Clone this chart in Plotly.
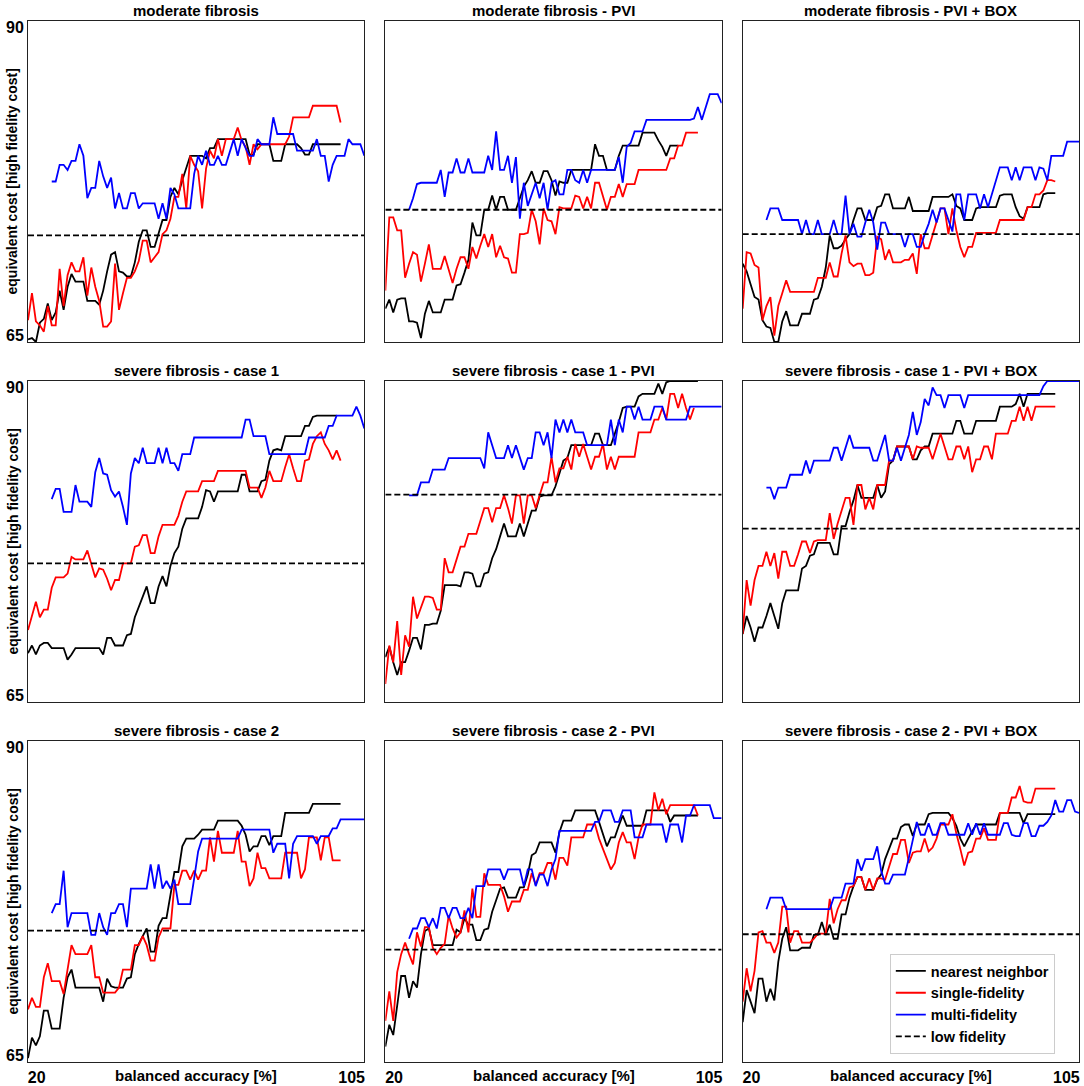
import plotly.graph_objects as go
from plotly.subplots import make_subplots

# x axis starts: nearest neighbor / single-fidelity start at 20, multi-fidelity at 26 (step 1)
X_START_NN = 20
X_START_SF = 20
X_START_MF = 26

TITLES = [
    "moderate fibrosis", "moderate fibrosis - PVI", "moderate fibrosis - PVI + BOX",
    "severe fibrosis - case 1", "severe fibrosis - case 1 - PVI", "severe fibrosis - case 1 - PVI + BOX",
    "severe fibrosis - case 2", "severe fibrosis - case 2 - PVI", "severe fibrosis - case 2 - PVI + BOX",
]

# low fidelity reference level per panel
LOW_FIDELITY = [73.3, 75.3, 73.4, 75.8, 81.15, 78.5, 75.24, 73.76, 74.95]

# ---- moderate fibrosis
MOD_NN = [65.2, 65.3, 65.0, 66.5, 66.8, 68.0, 66.7, 67.3, 69.0, 67.5,
          69.3, 70.3, 69.7, 69.7, 69.7, 68.2, 68.2, 68.2, 67.9, 69.0,
          70.5, 71.8, 72.0, 70.5, 70.4, 70.1, 70.1, 71.2, 72.8, 73.7,
          73.7, 72.4, 72.4, 73.5, 74.5, 74.5, 76.3, 77.0, 76.5, 77.6,
          78.5, 79.5, 79.5, 79.5, 79.5, 79.3, 80.1, 80.1, 80.8, 80.8,
          80.8, 80.8, 80.8, 80.8, 80.8, 80.8, 79.6, 79.6, 80.4, 80.4,
          80.4, 80.4, 79.1, 79.1, 79.1, 80.4, 80.4, 80.4, 80.4, 80.1,
          79.6, 79.6, 80.4, 80.4, 80.4, 80.4, 80.4, 80.4, 80.4, 80.4]
MOD_SF = [66.7, 68.8, 66.6, 66.3, 65.8, 67.8, 66.3, 66.3, 70.7, 67.8,
          70.2, 71.2, 70.5, 70.5, 71.6, 68.6, 70.8, 69.3, 68.2, 66.2,
          66.2, 66.6, 71.1, 67.5, 68.8, 70.0, 70.0, 70.5, 71.3, 72.9,
          72.9, 71.2, 71.6, 72.0, 73.4, 73.7, 74.6, 76.3, 76.3, 78.1,
          75.4, 79.5, 78.8, 78.3, 75.4, 78.5, 79.9, 79.3, 80.8, 79.5,
          80.8, 80.8, 80.8, 81.7, 80.7, 80.2, 78.8, 80.4, 80.0, 80.4,
          80.4, 80.4, 80.4, 80.4, 80.4, 80.4, 81.0, 82.5, 82.5, 82.5,
          82.5, 82.5, 83.4, 83.4, 83.4, 83.4, 83.4, 83.4, 83.4, 82.1]
MOD_MF = [77.5, 77.5, 78.8, 78.8, 78.4, 79.1, 79.1, 80.4, 79.5, 76.2,
          77.0, 77.0, 79.1, 77.9, 77.0, 77.8, 75.4, 76.6, 75.4, 75.4,
          76.6, 76.6, 75.4, 75.8, 75.8, 75.8, 75.8, 74.6, 75.8, 74.6,
          77.0, 76.5, 75.4, 75.4, 75.4, 75.4, 78.1, 79.5, 78.8, 79.9,
          78.8, 78.8, 79.5, 78.8, 78.8, 79.9, 80.8, 79.5, 80.8, 80.1,
          79.5, 79.5, 80.8, 80.4, 80.4, 80.4, 82.5, 81.2, 81.2, 81.2,
          81.2, 81.2, 79.9, 79.9, 79.9, 79.9, 79.9, 80.8, 79.5, 79.5,
          77.5, 78.8, 79.5, 79.5, 79.5, 80.8, 80.4, 80.4, 80.4, 79.5]

# ---- moderate fibrosis - PVI
MOD_PVI_NN = [67.6, 68.3, 67.3, 68.3, 68.4, 68.4, 66.6, 66.6, 66.5, 65.3,
              67.2, 68.2, 67.3, 67.3, 67.3, 68.3, 68.3, 68.3, 69.4, 69.5,
              70.4, 71.4, 74.3, 73.3, 73.3, 75.3, 75.3, 76.4, 75.3, 76.3,
              76.3, 75.3, 75.3, 75.3, 76.2, 77.1, 77.6, 78.3, 77.4, 77.4,
              78.3, 78.3, 77.6, 76.4, 77.5, 77.4, 77.4, 78.4, 78.4, 78.4,
              78.4, 78.4, 78.4, 80.4, 79.5, 79.5, 78.4, 78.4, 78.4, 79.5,
              80.3, 80.3, 80.3, 80.3, 80.3, 81.3, 81.3, 81.3, 81.3, 80.7,
              80.2, 79.5, 80.3, 80.3, 80.3]
MOD_PVI_SF = [69.0, 74.7, 74.7, 73.7, 73.7, 70.0, 71.1, 72.0, 71.8, 69.7,
              71.1, 72.6, 70.7, 70.7, 70.7, 71.7, 70.7, 69.6, 70.7, 71.6,
              71.6, 70.7, 72.4, 71.5, 72.5, 73.4, 72.4, 73.4, 71.6, 72.5,
              71.6, 71.5, 70.4, 70.4, 73.4, 73.4, 73.5, 75.3, 74.4, 72.6,
              75.4, 74.5, 74.4, 73.4, 75.5, 75.4, 75.4, 75.4, 76.4, 76.3,
              75.4, 76.3, 75.4, 77.4, 77.4, 76.4, 75.3, 76.3, 76.3, 77.3,
              76.3, 77.3, 77.3, 77.3, 78.4, 78.4, 78.4, 78.4, 78.4, 78.4,
              78.4, 78.4, 79.3, 79.3, 80.3, 80.3, 81.3, 81.3, 81.3, 81.3]
MOD_PVI_MF = [75.3, 76.2, 77.3, 77.4, 77.4, 77.4, 77.4, 77.4, 78.4, 76.3,
              78.2, 78.2, 79.3, 78.2, 78.2, 79.3, 78.2, 78.2, 78.2, 78.2,
              79.5, 78.4, 81.4, 78.4, 78.4, 79.5, 77.4, 79.4, 74.6, 77.4,
              75.6, 76.5, 77.4, 76.2, 77.4, 75.3, 77.4, 77.6, 76.5, 76.5,
              78.4, 78.4, 77.6, 77.4, 78.4, 77.4, 78.4, 78.4, 78.4, 78.4,
              78.4, 78.4, 78.4, 79.4, 77.4, 80.2, 80.5, 81.4, 81.4, 81.4,
              82.3, 82.3, 82.3, 82.3, 82.3, 82.3, 82.3, 82.3, 82.3, 82.3,
              82.3, 82.3, 82.4, 83.3, 82.3, 83.3, 84.3, 84.3, 84.3, 83.6]

# ---- moderate fibrosis - PVI + BOX
MOD_BOX_NN = [71.1, 70.5, 69.5, 68.5, 68.3, 66.7, 66.2, 66.1, 65.0, 65.0,
              66.6, 67.4, 66.3, 66.3, 66.3, 67.2, 67.2, 67.2, 68.3, 68.4,
              69.3, 70.8, 73.3, 72.3, 72.3, 72.5, 73.0, 73.4, 74.5, 75.4,
              75.4, 74.5, 74.5, 74.5, 75.5, 75.6, 76.5, 76.5, 75.4, 75.4,
              75.4, 75.4, 76.3, 75.2, 75.2, 75.2, 75.2, 75.2, 76.3, 76.3,
              76.3, 76.3, 76.3, 76.5, 75.6, 75.4, 74.5, 74.5, 74.5, 75.4,
              75.5, 75.5, 75.5, 75.5, 75.5, 76.4, 76.5, 76.5, 76.5, 75.5,
              74.8, 74.6, 75.5, 75.5, 75.5, 75.5, 76.5, 76.6, 76.6, 76.6]
MOD_BOX_SF = [67.6, 72.0, 71.9, 71.0, 70.8, 66.7, 67.8, 68.5, 65.5, 67.8,
              68.8, 69.8, 68.9, 68.9, 68.9, 68.9, 68.9, 68.9, 68.9, 70.0,
              70.0, 70.0, 71.2, 70.1, 70.1, 71.9, 73.3, 71.2, 70.9, 71.1,
              71.1, 70.2, 70.2, 70.4, 73.2, 73.0, 71.4, 72.2, 71.2, 71.2,
              71.2, 71.4, 71.4, 71.9, 70.3, 73.4, 72.3, 72.3, 73.4, 74.3,
              75.4, 75.4, 73.4, 75.4, 73.7, 72.4, 71.6, 72.4, 72.4, 73.5,
              73.5, 73.5, 73.5, 73.5, 73.5, 74.5, 74.5, 74.5, 74.5, 74.5,
              74.5, 74.5, 75.5, 75.5, 76.5, 76.5, 76.8, 77.6, 77.6, 77.5]
MOD_BOX_MF = [74.5, 75.4, 75.4, 75.4, 74.5, 74.5, 74.5, 74.5, 74.5, 73.4,
              74.5, 73.4, 73.4, 74.5, 73.4, 73.4, 73.4, 74.5, 73.4, 73.4,
              76.4, 73.4, 74.2, 73.2, 73.2, 74.3, 75.3, 74.3, 72.2, 74.3,
              74.3, 73.4, 73.4, 73.4, 73.4, 72.4, 73.4, 73.4, 72.4, 72.4,
              73.4, 74.2, 75.3, 74.3, 75.4, 75.4, 74.5, 73.6, 76.5, 76.5,
              74.5, 76.5, 76.5, 76.5, 75.4, 76.5, 75.5, 76.5, 77.6, 78.6,
              78.6, 78.6, 77.6, 78.6, 77.6, 78.6, 78.6, 78.6, 77.6, 78.6,
              78.5, 77.6, 79.5, 79.5, 79.5, 79.5, 80.6, 80.6, 80.6, 80.6]

# ---- severe fibrosis - case 1
SEV1_NN = [68.8, 69.4, 68.7, 69.4, 69.6, 69.6, 69.2, 69.2, 69.2, 69.2,
           68.3, 68.7, 69.2, 69.2, 69.2, 69.2, 69.2, 69.2, 69.2, 68.7,
           70.0, 70.0, 69.4, 69.4, 69.4, 70.2, 70.3, 71.6, 72.4, 73.2,
           74.0, 72.7, 72.7, 74.0, 74.8, 74.0, 75.6, 76.6, 77.1, 78.5,
           79.3, 79.3, 79.3, 79.3, 80.2, 81.5, 81.4, 80.6, 81.4, 81.4,
           81.4, 81.4, 81.4, 81.4, 82.7, 82.7, 81.4, 81.4, 81.4, 82.2,
           82.3, 83.8, 84.6, 84.7, 84.6, 85.7, 85.7, 85.7, 85.7, 85.7,
           86.5, 86.5, 87.2, 87.3, 87.3, 87.3, 87.3, 87.3, 87.3]
SEV1_SF = [70.6, 71.7, 72.8, 71.6, 72.2, 72.2, 73.9, 74.7, 74.7, 74.7,
           75.0, 76.3, 76.1, 76.1, 76.1, 76.8, 75.7, 74.7, 75.4, 75.3,
           74.6, 73.7, 74.5, 74.5, 75.8, 75.8, 75.8, 77.1, 77.2, 78.0,
           78.0, 76.6, 76.6, 77.9, 78.8, 78.8, 78.8, 78.8, 79.5, 80.6,
           81.4, 81.4, 81.4, 81.4, 82.2, 82.2, 82.2, 82.2, 83.0, 83.0,
           83.0, 83.0, 83.0, 83.0, 83.0, 83.0, 81.7, 81.7, 81.7, 80.9,
           81.7, 83.0, 82.2, 82.2, 82.2, 83.3, 84.3, 83.2, 82.2, 82.2,
           83.8, 83.9, 85.1, 85.7, 86.0, 85.1, 84.6, 83.9, 84.6, 83.8]
SEV1_MF = [80.8, 81.6, 81.6, 79.8, 79.8, 79.8, 81.9, 80.6, 80.6, 80.6,
           80.2, 82.9, 84.0, 82.8, 82.7, 81.5, 81.0, 81.4, 80.2, 78.8,
           82.8, 84.0, 83.6, 84.8, 83.6, 83.6, 83.6, 84.8, 83.6, 84.8,
           83.6, 83.6, 83.0, 84.3, 84.3, 84.3, 85.6, 85.6, 85.6, 85.6,
           85.6, 85.6, 85.6, 85.6, 85.6, 85.6, 85.6, 85.6, 85.6, 87.0,
           87.0, 85.7, 85.7, 85.7, 85.7, 84.3, 84.3, 84.3, 84.3, 84.3,
           84.3, 84.3, 84.3, 84.3, 84.3, 85.6, 85.6, 85.6, 85.6, 85.6,
           86.5, 86.5, 87.3, 87.3, 87.3, 87.3, 87.3, 88.0, 87.3, 86.3]

# ---- severe fibrosis - case 1 - PVI
SEV1_PVI_NN = [68.5, 69.3, 68.1, 67.1, 68.1, 68.1, 69.0, 70.0, 70.0, 69.1,
               71.0, 71.0, 71.1, 71.1, 72.1, 74.1, 74.1, 74.1, 74.1, 74.0,
               75.1, 75.1, 75.0, 74.0, 74.0, 75.0, 75.1, 76.2, 76.9, 77.9,
               78.9, 77.9, 77.9, 77.9, 78.9, 77.9, 78.9, 79.9, 79.9, 81.0,
               81.1, 81.1, 81.1, 81.8, 82.9, 83.8, 84.0, 85.0, 85.0, 85.0,
               85.0, 85.0, 85.0, 85.9, 85.9, 85.0, 85.0, 85.0, 85.9, 86.8,
               87.9, 88.0, 88.0, 88.0, 88.8, 89.0, 89.0, 89.0, 89.0, 89.8,
               89.0, 89.9, 90.0, 90.0, 90.0, 90.0, 90.0, 90.0, 90.0, 90.0]
SEV1_PVI_SF = [66.4, 69.4, 68.1, 71.3, 67.1, 70.2, 69.3, 73.2, 71.5, 72.4,
               73.2, 73.2, 73.1, 72.2, 72.2, 76.2, 75.1, 75.1, 76.2, 77.1,
               77.1, 78.1, 78.1, 78.1, 79.1, 80.1, 80.1, 79.0, 80.1, 80.1,
               81.1, 80.1, 78.9, 81.1, 81.1, 78.9, 81.1, 81.1, 80.1, 81.1,
               82.1, 82.1, 84.1, 82.1, 83.2, 83.2, 84.1, 83.1, 85.1, 84.1,
               85.1, 84.1, 83.1, 84.1, 84.1, 85.1, 83.1, 84.1, 83.1, 84.1,
               84.1, 84.1, 84.1, 84.1, 86.0, 86.0, 86.0, 86.0, 87.0, 87.0,
               87.9, 87.0, 89.0, 89.0, 87.9, 89.0, 87.9, 87.0, 87.9]
SEV1_PVI_MF = [81.1, 81.1, 81.1, 82.1, 82.1, 82.1, 83.1, 83.1, 83.1, 83.1,
               84.0, 84.0, 84.0, 84.0, 84.0, 84.0, 84.0, 84.0, 84.0, 83.2,
               86.0, 85.0, 84.0, 84.0, 84.0, 85.0, 84.0, 85.0, 84.0, 83.1,
               84.0, 84.0, 86.0, 86.0, 85.0, 86.0, 84.0, 87.0, 86.0, 87.0,
               86.0, 87.0, 86.0, 86.0, 86.0, 85.0, 85.0, 85.0, 85.0, 85.0,
               85.0, 87.0, 85.0, 87.0, 86.0, 88.0, 88.0, 87.0, 88.0, 87.0,
               87.0, 87.0, 88.0, 88.0, 88.0, 87.0, 87.0, 87.0, 87.0, 87.0,
               87.0, 88.0, 88.0, 88.0, 88.0, 88.0, 88.0, 88.0, 88.0, 88.0]

# ---- severe fibrosis - case 1 - PVI + BOX
SEV1_BOX_NN = [70.3, 71.7, 70.8, 69.7, 70.8, 70.8, 71.7, 72.7, 71.7, 70.7,
               72.7, 73.7, 73.7, 73.7, 73.7, 75.4, 75.6, 76.4, 76.5, 77.4,
               77.4, 77.4, 77.4, 76.5, 76.5, 78.7, 78.7, 79.8, 80.7, 81.9,
               80.9, 80.9, 80.9, 80.9, 81.9, 80.9, 81.4, 83.5, 83.8, 84.9,
               84.9, 84.9, 84.9, 83.9, 83.9, 84.6, 84.9, 84.9, 85.9, 85.9,
               85.9, 85.9, 85.9, 85.9, 86.9, 86.9, 85.9, 85.9, 85.9, 86.9,
               86.9, 86.9, 86.9, 86.9, 86.9, 88.0, 88.0, 88.0, 88.0, 88.2,
               89.0, 88.0, 89.0, 89.0, 89.0, 89.0, 89.0, 89.0, 89.0, 89.0]
SEV1_BOX_SF = [70.3, 74.5, 72.5, 74.5, 75.6, 75.6, 76.7, 75.6, 76.6, 74.6,
               76.7, 76.7, 75.6, 75.6, 76.5, 77.5, 77.5, 76.6, 77.5, 77.6,
               77.6, 77.6, 79.7, 77.7, 78.9, 80.0, 80.9, 80.9, 78.8, 81.9,
               81.9, 80.0, 80.9, 80.0, 81.9, 81.9, 81.9, 83.8, 83.8, 84.9,
               84.9, 84.9, 84.9, 83.9, 84.9, 84.8, 84.8, 84.8, 83.9, 84.9,
               85.9, 84.9, 83.9, 83.9, 84.9, 84.9, 83.9, 84.9, 82.9, 83.9,
               83.9, 84.9, 84.9, 83.9, 85.9, 85.9, 85.9, 85.9, 86.9, 86.9,
               88.0, 86.9, 88.0, 86.9, 88.0, 88.0, 88.0, 88.0, 88.0, 88.0]
SEV1_BOX_MF = [81.7, 81.7, 80.8, 81.7, 81.7, 81.7, 82.7, 82.7, 82.7, 82.7,
               83.8, 82.8, 83.8, 83.8, 83.8, 83.8, 83.8, 84.8, 84.8, 83.8,
               84.8, 85.8, 84.8, 84.8, 84.8, 84.8, 84.8, 83.8, 83.8, 84.8,
               85.8, 83.8, 83.8, 84.8, 83.8, 84.8, 85.8, 87.6, 85.8, 86.8,
               88.6, 88.1, 89.5, 88.9, 88.9, 87.9, 88.9, 88.9, 88.9, 88.9,
               87.9, 88.9, 88.9, 88.9, 88.9, 88.9, 88.9, 88.9, 88.9, 88.9,
               88.9, 88.9, 88.9, 88.9, 88.9, 88.9, 88.9, 88.9, 88.9, 88.9,
               89.6, 90.0, 90.0, 90.0, 90.0, 90.0, 90.0, 90.0, 90.0, 90.0]

# ---- severe fibrosis - case 2
SEV2_NN = [65.3, 66.9, 66.3, 67.0, 69.0, 69.0, 67.6, 67.6, 67.6, 70.0,
           71.6, 72.2, 70.8, 70.8, 70.8, 70.8, 70.8, 70.8, 70.8, 69.7,
           71.5, 70.9, 70.8, 70.8, 70.8, 71.5, 71.6, 73.4, 74.2, 74.8,
           75.4, 73.6, 73.6, 75.6, 76.2, 76.2, 78.0, 79.8, 79.8, 81.8,
           82.4, 82.4, 82.4, 82.7, 83.1, 83.1, 83.1, 83.1, 83.8, 83.8,
           83.8, 83.8, 83.8, 83.8, 83.4, 82.7, 81.4, 81.8, 81.8, 82.6,
           82.6, 81.9, 82.6, 82.6, 82.6, 84.4, 84.4, 84.4, 84.4, 84.4,
           84.4, 84.4, 85.1, 85.1, 85.1, 85.1, 85.1, 85.1, 85.1, 85.1]
SEV2_SF = [69.1, 70.0, 69.3, 69.3, 71.6, 72.7, 71.3, 71.3, 71.3, 70.3,
           72.1, 74.1, 73.4, 73.4, 73.4, 73.4, 74.1, 71.6, 71.6, 70.4,
           70.4, 70.4, 70.4, 70.8, 72.2, 72.2, 72.2, 74.1, 74.1, 74.8,
           74.1, 72.9, 72.9, 74.7, 75.4, 75.4, 75.4, 78.8, 78.8, 79.9,
           79.9, 79.2, 79.9, 79.2, 79.9, 79.9, 82.5, 80.6, 83.0, 81.3,
           81.3, 81.3, 81.3, 83.0, 80.6, 80.6, 78.7, 79.3, 81.3, 80.1,
           80.1, 79.3, 79.3, 79.3, 79.3, 81.3, 81.3, 81.3, 81.3, 79.3,
           80.0, 82.5, 82.5, 82.5, 80.7, 82.5, 82.5, 80.7, 80.7, 80.7]
SEV2_MF = [76.6, 77.3, 77.3, 79.9, 75.5, 76.6, 76.6, 76.6, 76.6, 76.6,
           74.9, 74.9, 76.6, 75.5, 74.9, 76.6, 76.6, 77.3, 77.3, 75.5,
           78.5, 78.5, 78.5, 78.5, 78.5, 80.4, 78.5, 80.4, 78.5, 79.1,
           78.5, 79.2, 77.3, 77.3, 77.3, 77.3, 79.3, 81.4, 82.4, 82.4,
           82.4, 82.4, 82.4, 82.4, 82.4, 82.4, 82.4, 82.4, 83.1, 83.1,
           83.1, 83.1, 83.1, 83.1, 83.1, 83.1, 81.3, 82.0, 82.0, 82.0,
           79.3, 82.0, 82.6, 82.6, 82.6, 82.6, 82.6, 82.0, 82.6, 82.6,
           82.6, 83.2, 83.2, 83.9, 83.9, 83.9, 83.9, 83.9, 83.9, 83.9]

# ---- severe fibrosis - case 2 - PVI
SEV2_PVI_NN = [66.2, 67.9, 67.1, 69.4, 71.7, 71.7, 70.0, 71.3, 70.8, 73.4,
               75.2, 75.4, 74.1, 74.1, 74.1, 74.1, 74.1, 74.1, 75.3, 75.1,
               76.2, 75.7, 75.7, 74.5, 74.5, 75.3, 75.4, 76.7, 77.6, 78.5,
               78.6, 77.8, 77.8, 77.8, 78.6, 78.6, 79.6, 81.1, 81.3, 82.1,
               82.1, 82.1, 82.1, 81.3, 82.9, 83.8, 83.8, 83.8, 84.6, 84.6,
               84.6, 84.6, 84.6, 84.6, 83.7, 82.7, 81.8, 82.5, 82.5, 83.4,
               84.2, 83.4, 83.4, 83.4, 83.4, 83.4, 84.6, 84.6, 84.6, 84.6,
               84.6, 84.6, 83.7, 84.2, 84.2, 84.2, 84.2, 84.2, 84.2, 84.2]
SEV2_PVI_SF = [68.2, 70.5, 68.2, 72.0, 73.4, 74.3, 73.4, 72.6, 75.1, 74.0,
               75.5, 75.5, 73.9, 73.4, 73.9, 74.2, 76.4, 75.4, 74.7, 75.1,
               76.8, 75.1, 78.5, 76.3, 76.3, 79.7, 78.8, 78.8, 78.8, 78.8,
               77.9, 76.7, 77.5, 77.5, 77.5, 78.4, 78.4, 79.7, 78.8, 79.7,
               79.7, 80.5, 80.5, 79.2, 80.9, 80.9, 80.3, 82.5, 82.5, 82.5,
               82.5, 83.5, 83.5, 83.5, 82.4, 81.6, 80.9, 80.0, 80.5, 82.1,
               82.9, 82.1, 82.1, 80.8, 82.5, 83.5, 83.5, 83.5, 86.0, 84.6,
               85.5, 84.3, 85.0, 85.0, 85.0, 85.0, 85.0, 85.0, 85.0, 84.2]
SEV2_PVI_MF = [74.6, 75.4, 75.4, 76.2, 76.2, 75.5, 76.2, 75.4, 77.0, 77.0,
               76.2, 77.0, 77.0, 76.2, 76.2, 77.0, 76.2, 78.7, 78.7, 78.7,
               80.0, 80.0, 80.0, 80.0, 79.2, 80.0, 80.0, 80.0, 80.0, 78.7,
               80.0, 80.0, 78.7, 79.6, 79.6, 78.7, 80.0, 80.8, 83.0, 83.0,
               83.0, 83.0, 83.0, 83.0, 83.0, 83.0, 83.0, 83.7, 83.7, 84.6,
               84.6, 84.6, 83.7, 83.7, 84.6, 84.6, 84.6, 82.5, 82.5, 82.5,
               83.5, 83.5, 83.5, 83.5, 83.5, 82.1, 83.5, 83.5, 83.5, 82.1,
               84.2, 84.2, 85.0, 85.0, 85.0, 85.0, 85.0, 84.0, 84.0, 84.0]

# ---- severe fibrosis - case 2 - PVI + BOX
SEV2_BOX_NN = [68.1, 70.6, 69.7, 68.8, 71.5, 71.5, 69.7, 70.7, 69.8, 72.8,
               74.6, 75.5, 73.7, 73.7, 73.7, 73.9, 73.9, 73.9, 74.9, 74.9,
               75.9, 74.9, 75.7, 74.6, 74.6, 76.5, 76.5, 77.8, 78.7, 79.4,
               79.4, 78.4, 78.4, 78.4, 79.2, 79.6, 80.8, 81.6, 82.4, 82.4,
               83.3, 83.5, 83.5, 82.6, 83.5, 83.5, 83.5, 84.3, 84.4, 84.4,
               84.4, 84.4, 84.4, 84.0, 83.4, 82.4, 81.8, 82.4, 82.9, 83.5,
               83.5, 83.5, 83.5, 83.5, 83.5, 84.4, 84.4, 84.4, 84.4, 84.4,
               84.4, 83.6, 84.3, 84.3, 84.3, 84.3, 84.3, 84.3, 84.3, 84.3]
SEV2_BOX_SF = [69.7, 72.3, 70.5, 72.1, 75.1, 75.2, 74.3, 74.3, 73.5, 74.3,
               77.1, 77.1, 74.3, 75.2, 75.2, 74.3, 74.3, 74.3, 74.6, 75.0,
               75.0, 75.0, 77.7, 75.8, 76.9, 77.6, 77.6, 78.6, 78.7, 79.4,
               79.4, 78.4, 79.3, 78.4, 79.3, 79.3, 79.2, 80.3, 81.2, 81.2,
               82.3, 82.3, 80.5, 81.3, 81.4, 81.4, 82.4, 81.4, 81.7, 82.4,
               83.5, 83.5, 83.5, 84.3, 82.8, 81.6, 80.3, 81.3, 81.4, 82.4,
               82.4, 83.2, 82.3, 82.3, 82.3, 84.4, 84.4, 84.4, 85.6, 85.6,
               86.5, 85.3, 85.2, 85.2, 86.3, 86.3, 86.3, 86.3, 86.3, 86.3]
SEV2_BOX_MF = [76.9, 77.8, 77.8, 77.8, 77.8, 76.9, 76.9, 76.9, 76.9, 76.9,
               76.9, 76.9, 76.9, 76.9, 76.9, 76.9, 76.9, 77.8, 77.8, 77.8,
               78.9, 78.9, 78.9, 80.8, 79.9, 80.8, 80.8, 80.8, 81.8, 79.9,
               78.9, 78.9, 79.6, 79.6, 79.6, 79.6, 80.9, 82.4, 83.7, 82.7,
               82.7, 83.6, 82.7, 82.7, 83.6, 83.6, 82.7, 82.7, 82.7, 82.7,
               82.7, 83.6, 82.7, 83.6, 82.7, 83.6, 82.7, 82.7, 82.7, 82.7,
               83.6, 83.6, 82.7, 82.6, 82.6, 83.6, 83.6, 82.6, 82.6, 83.4,
               83.4, 83.7, 84.2, 85.4, 84.5, 84.5, 85.4, 85.4, 84.5, 84.4]

PANELS = [
    (MOD_NN, MOD_SF, MOD_MF),
    (MOD_PVI_NN, MOD_PVI_SF, MOD_PVI_MF),
    (MOD_BOX_NN, MOD_BOX_SF, MOD_BOX_MF),
    (SEV1_NN, SEV1_SF, SEV1_MF),
    (SEV1_PVI_NN, SEV1_PVI_SF, SEV1_PVI_MF),
    (SEV1_BOX_NN, SEV1_BOX_SF, SEV1_BOX_MF),
    (SEV2_NN, SEV2_SF, SEV2_MF),
    (SEV2_PVI_NN, SEV2_PVI_SF, SEV2_PVI_MF),
    (SEV2_BOX_NN, SEV2_BOX_SF, SEV2_BOX_MF),
]

X_RANGE = [20, 105]
Y_RANGE = [65, 90]

FONT = "Liberation Sans, Arial, Helvetica, sans-serif"
LW = 1.8


def xs(start, ys):
    return list(range(start, start + len(ys)))


def ax_ref(letter, n):
    # plotly names the first axis "x"/"y", not "x1"/"y1"
    return f"{letter}{'' if n == 1 else n} domain"


fig = make_subplots(rows=3, cols=3, subplot_titles=TITLES,
                    horizontal_spacing=0.02, vertical_spacing=0.0375)

for k, (nn, sf, mf) in enumerate(PANELS):
    r, c = k // 3 + 1, k % 3 + 1
    first = k == 0
    fig.add_trace(go.Scatter(x=xs(X_START_NN, nn), y=nn, mode="lines",
                             line=dict(color="black", width=LW),
                             name="nearest neighbor", showlegend=first), row=r, col=c)
    fig.add_trace(go.Scatter(x=xs(X_START_SF, sf), y=sf, mode="lines",
                             line=dict(color="#ff0000", width=LW),
                             name="single-fidelity", showlegend=first), row=r, col=c)
    fig.add_trace(go.Scatter(x=xs(X_START_MF, mf), y=mf, mode="lines",
                             line=dict(color="#0000ff", width=LW),
                             name="multi-fidelity", showlegend=first), row=r, col=c)
    fig.add_trace(go.Scatter(x=X_RANGE, y=[LOW_FIDELITY[k]] * 2, mode="lines",
                             line=dict(color="black", width=LW, dash="6px,3px"),
                             name="low fidelity", showlegend=first), row=r, col=c)

fig.update_annotations(font=dict(family=FONT, size=15, color="black", weight="bold"))

# automargin off: the tick labels must not push the plot areas around
fig.update_xaxes(range=X_RANGE, showgrid=False, zeroline=False, ticks="",
                 showline=True, mirror=True, linecolor="#222222", linewidth=1,
                 tickvals=[22.2, 101.8], ticktext=["20", "105"],
                 tickfont=dict(family=FONT, size=16, color="black", weight="bold"),
                 ticklabelstandoff=1, showticklabels=False, automargin=False)
fig.update_yaxes(range=Y_RANGE, showgrid=False, zeroline=False, ticks="",
                 showline=True, mirror=True, linecolor="#222222", linewidth=1,
                 tickvals=[65.5, 89.5], ticktext=["65", "90"],
                 tickfont=dict(family=FONT, size=16, color="black", weight="bold"),
                 showticklabels=False, automargin=False)
for c in range(1, 4):
    fig.update_xaxes(showticklabels=True, row=3, col=c)
for r in range(1, 4):
    fig.update_yaxes(showticklabels=True, row=r, col=1)

# axis titles
for r in range(1, 4):
    n = (r - 1) * 3 + 1
    fig.add_annotation(text="<b>equivalent cost [high fidelity cost]</b>", textangle=-90,
                       xref="paper", x=-0.0152, yref=ax_ref("y", n), y=0.5,
                       xanchor="center", yanchor="middle", showarrow=False,
                       font=dict(family=FONT, size=14, color="black"))
for c in range(1, 4):
    n = 6 + c
    fig.add_annotation(text="<b>balanced accuracy [%]</b>",
                       xref=ax_ref("x", n), x=0.5, yref="paper", y=-0.0125,
                       xanchor="center", yanchor="middle", showarrow=False,
                       font=dict(family=FONT, size=15, color="black"))

fig.update_layout(
    width=1084, height=1086,
    margin=dict(l=28, r=5, t=21, b=24),
    plot_bgcolor="white", paper_bgcolor="white",
    font=dict(family=FONT, color="black"),
    legend=dict(x=0.82, y=0.0077, xanchor="left", yanchor="bottom",
                bgcolor="white", bordercolor="#cccccc", borderwidth=1,
                font=dict(family=FONT, size=14.5, color="black", weight="bold"),
                tracegroupgap=0),
)

# the page body has a default 8px margin; drop it so the figure fills the window
NO_PAGE_MARGIN = "document.body.style.margin = '0px';"
fig.write_html("out.html", config={"displayModeBar": False}, post_script=NO_PAGE_MARGIN)
